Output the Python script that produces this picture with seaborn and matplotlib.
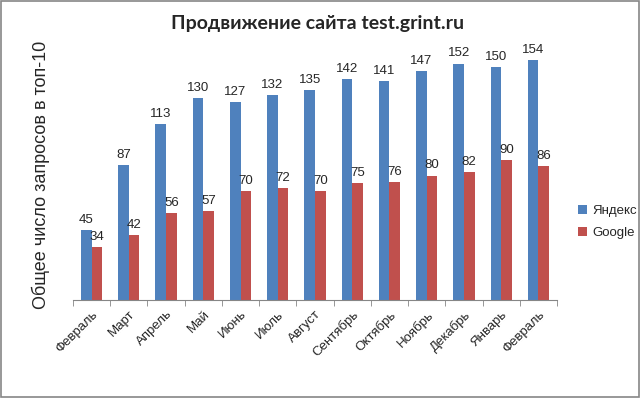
import numpy as np
import pandas as pd
import matplotlib
matplotlib.use('Agg')
import matplotlib.pyplot as plt
import seaborn as sns

# данные с графика
months = ['Февраль', 'Март', 'Апрель', 'Май', 'Июнь', 'Июль', 'Август',
          'Сентябрь', 'Октябрь', 'Ноябрь', 'Декабрь', 'Январь', 'Февраль']
yandex = [45, 87, 113, 130, 127, 132, 135, 142, 141, 147, 152, 150, 154]
google = [34, 42, 56, 57, 70, 72, 70, 75, 76, 80, 82, 90, 86]

df = pd.DataFrame({
    'idx': list(range(len(months))) * 2,
    'value': yandex + google,
    'engine': ['Яндекс'] * len(months) + ['Google'] * len(months),
})

sns.set_style('white')
plt.rcParams['font.family'] = ['Liberation Sans', 'DejaVu Sans']

fig = plt.figure(figsize=(6.4, 3.98), dpi=100)
ax = fig.add_axes([73 / 640, 1 - 300 / 398, 484 / 640, 280 / 398])

sns.barplot(data=df, x='idx', y='value', hue='engine',
            palette=['#4F81BD', '#C0504D'], width=0.57, gap=0,
            saturation=1, linewidth=0, ax=ax)

for cont in ax.containers:
    ax.bar_label(cont, fontsize=9.5, padding=3)

ax.set_ylim(0, 180)
ax.set_xlim(-0.5, len(months) - 0.5)
ax.set_xticks(range(len(months)))
ax.set_xticklabels(months, rotation=45, ha='right', rotation_mode='anchor', fontsize=9.5)
ax.set_xticks(np.arange(-0.5, len(months)), minor=True)
ax.tick_params(axis='x', which='major', length=0, pad=6)
ax.tick_params(axis='x', which='minor', length=4, color='#868686', direction='out', bottom=True)
ax.set_yticks([])
ax.set_xlabel('')
ax.set_ylabel('Общее число запросов в топ-10', fontsize=13)
ax.yaxis.set_label_coords(-0.048, 0.446)

for s in ['top', 'right', 'left']:
    ax.spines[s].set_visible(False)
ax.spines['bottom'].set_color('#868686')

ax.legend(loc='upper left', bbox_to_anchor=(566 / 640, 1 - 193 / 398), bbox_transform=fig.transFigure,
          frameon=False, fontsize=9.5, handlelength=0.7, handleheight=0.7,
          labelspacing=0.75, handletextpad=0.4)

fig.text(318 / 640, 1 - 24 / 398, 'Продвижение сайта test.grint.ru',
         ha='center', va='center', fontsize=14, fontweight='bold', family=['Lato', 'DejaVu Sans'])

fig.patches.append(plt.Rectangle((0.002, 0.003), 0.996, 0.994, transform=fig.transFigure,
                                 fill=False, edgecolor='#868686', lw=1.2))

fig.savefig('out.png', dpi=100)
